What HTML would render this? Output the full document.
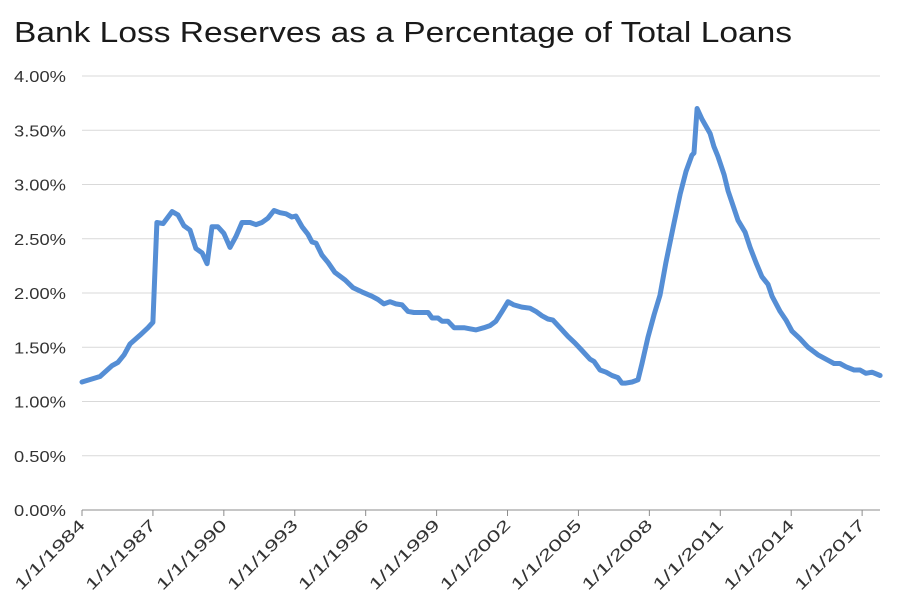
<!DOCTYPE html>
<html><head><meta charset="utf-8"><style>
html,body{margin:0;padding:0;background:#fff;}
svg{display:block;font-family:"Liberation Sans",sans-serif;}
</style></head><body>
<svg id="chart" width="903" height="612">
<text x="14" y="42" font-size="29" fill="#1a1a1a" textLength="778" lengthAdjust="spacingAndGlyphs">Bank Loss Reserves as a Percentage of Total Loans</text>
<g id="grid"></g><g id="yt"></g><g id="xt"></g><g id="ln"></g>
</svg>
<script>
const yTicks=[0,0.5,1,1.5,2,2.5,3,3.5,4];
const xTickYears=[1984,1987,1990,1993,1996,1999,2002,2005,2008,2011,2014,2017];
const years=[0,0.76,1.27,1.52,1.78,2.03,2.45,2.79,3.0,3.17,3.43,3.81,4.06,4.31,4.57,4.82,5.08,5.29,5.5,5.75,6.0,6.26,6.51,6.77,7.11,7.36,7.61,7.87,8.12,8.38,8.63,8.88,9.05,9.31,9.56,9.73,9.9,10.15,10.41,10.7,11.13,11.46,11.84,12.27,12.52,12.77,13.03,13.28,13.54,13.79,14.04,14.47,14.64,14.81,15.06,15.23,15.48,15.74,16.16,16.41,16.67,17.0,17.26,17.51,17.77,18.02,18.27,18.61,18.95,19.2,19.46,19.71,19.92,20.22,20.56,20.85,21.15,21.49,21.66,21.91,22.17,22.42,22.67,22.84,23.01,23.27,23.52,23.69,23.94,24.2,24.45,24.7,25.04,25.3,25.55,25.8,25.89,26.02,26.23,26.57,26.73,26.9,27.16,27.33,27.58,27.75,28.05,28.26,28.51,28.76,29.02,29.19,29.53,29.78,30.03,30.37,30.71,31.13,31.56,31.81,32.06,32.32,32.66,32.91,33.16,33.42,33.76];
const values=[1.18,1.23,1.33,1.36,1.43,1.53,1.61,1.68,1.73,2.65,2.64,2.75,2.72,2.62,2.58,2.41,2.37,2.27,2.61,2.61,2.55,2.42,2.52,2.65,2.65,2.63,2.65,2.69,2.76,2.74,2.73,2.70,2.71,2.61,2.54,2.47,2.46,2.35,2.28,2.19,2.12,2.05,2.01,1.97,1.94,1.90,1.92,1.90,1.89,1.83,1.82,1.82,1.82,1.77,1.77,1.74,1.74,1.68,1.68,1.67,1.66,1.68,1.70,1.74,1.83,1.92,1.89,1.87,1.86,1.83,1.79,1.76,1.75,1.68,1.60,1.54,1.47,1.39,1.37,1.29,1.27,1.24,1.22,1.17,1.17,1.18,1.20,1.35,1.59,1.80,1.98,2.28,2.64,2.91,3.12,3.27,3.29,3.70,3.60,3.47,3.35,3.26,3.09,2.94,2.78,2.67,2.56,2.42,2.28,2.15,2.08,1.97,1.83,1.75,1.65,1.58,1.50,1.43,1.38,1.35,1.35,1.32,1.29,1.29,1.26,1.27,1.24];
const NS='http://www.w3.org/2000/svg';
const x0=82,x1=880,y0=510,yTop=76;
function X(off){return x0+off*23.64;}
function Y(v){return y0-(v/4)*(y0-yTop);}
function mk(t,p,a){const e=document.createElementNS(NS,t);for(const k in a)e.setAttribute(k,a[k]);p.appendChild(e);return e;}
const grid=document.getElementById('grid'),yt=document.getElementById('yt'),xt=document.getElementById('xt'),ln=document.getElementById('ln');
yTicks.forEach(v=>{
 const l=mk('line',grid,{x1:x0,x2:x1,y1:Y(v),y2:Y(v),stroke:v===0?'#8c8c8c':'#d9d9d9','stroke-width':1});
 
 
 const t=mk('text',yt,{x:66,y:Y(v)+6,'text-anchor':'end','font-size':16,fill:'#333',textLength:52,lengthAdjust:'spacingAndGlyphs'});
 t.textContent=v.toFixed(2)+'%';
 
 
});
xTickYears.forEach(yr=>{
 const px=X(yr-1984);
 const tk=mk('line',xt,{x1:px,x2:px,y1:y0,y2:y0+6,stroke:'#8c8c8c','stroke-width':1});
 
 
 const t=mk('text',xt,{x:px+4,y:526,'text-anchor':'end','font-size':16,fill:'#333',textLength:92,lengthAdjust:'spacingAndGlyphs',transform:'rotate(-45 '+(px+4)+' 526)'});
 t.textContent='1/1/'+yr;
 
 
});
const d=years.map((o,i)=>(i?'L':'M')+X(o).toFixed(1)+' '+Y(values[i]).toFixed(1)).join(' ');
const p=mk('path',ln,{d:d,fill:'none',stroke:'#558ed5','stroke-width':5,'stroke-linejoin':'round','stroke-linecap':'round'});


</script>
</body></html>
